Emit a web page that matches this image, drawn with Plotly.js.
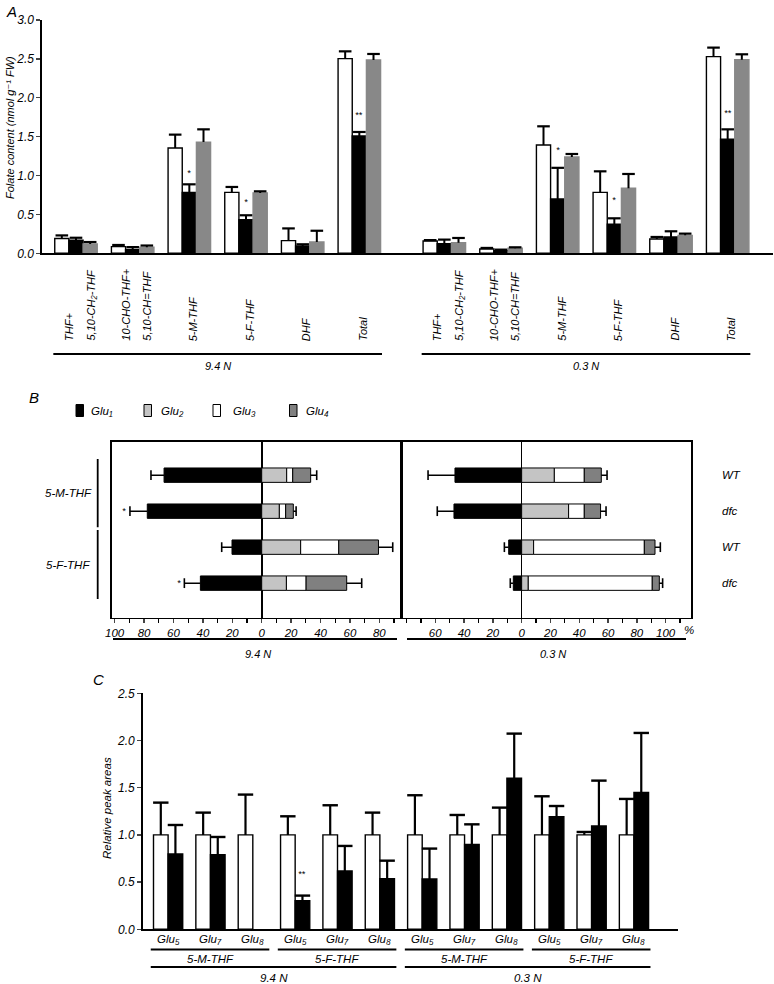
<!DOCTYPE html>
<html><head><meta charset="utf-8">
<script src="https://cdn.plot.ly/plotly-3.0.1.min.js"></script>
<style>html,body{margin:0;padding:0;background:#fff}</style>
</head><body><div id="chart" style="width:774px;height:984px"></div>
<script>
// ---------------- DATA ----------------
// Panel A: folate content (nmol g-1 FW)
const posA = [0, 1, 2, 3, 4, 5, 6.5, 7.5, 8.5, 9.5, 10.5, 11.5];
const labelsA = [["THF+", "5,10-CH\u2082-THF"], ["10-CHO-THF+", "5,10-CH=THF"], ["5-M-THF"], ["5-F-THF"], ["DHF"], ["Total"]];
const nLabels = ["9.4 N", "0.3 N"];
const whiteA    = [0.19, 0.086, 1.354, 0.784, 0.163, 2.503, 0.159, 0.056, 1.393, 0.784, 0.184, 2.529];
const whiteAerr = [0.04, 0.021, 0.172, 0.069, 0.157, 0.094, 0.011, 0.013, 0.240, 0.270, 0.026, 0.116];
const blackA    = [0.17, 0.050, 0.784, 0.433, 0.094, 1.509, 0.124, 0.034, 0.699, 0.373, 0.210, 1.466];
const blackAerr = [0.03, 0.030, 0.103, 0.056, 0.022, 0.051, 0.052, 0.013, 0.400, 0.077, 0.073, 0.128];
const grayA     = [0.12, 0.077, 1.430, 0.776, 0.146, 2.486, 0.137, 0.064, 1.239, 0.836, 0.231, 2.490];
const grayAerr  = [0.025, 0.023, 0.164, 0.021, 0.144, 0.077, 0.060, 0.013, 0.038, 0.184, 0.022, 0.069];
const starIdxA  = [2, 3, 5, 8, 9, 11];
const starYA    = [1.03, 0.66, 1.78, 1.33, 0.69, 1.80];
const starTextA = ["*", "*", "**", "*", "*", "**"];

// Panel B: polyglutamate distribution (%)
const rowsB = [0, 1, 2, 3];
const folateB = ["5-M-THF", "5-F-THF"];
const genotypeB = ["WT", "dfc", "WT", "dfc"];
const gluNames = ["Glu\u2081", "Glu\u2082", "Glu\u2083", "Glu\u2084"];
// 9.4 N
const glu1_94 = [66.4, 77.8, 20.2, 41.7];
const glu1_94sd = [8.9, 11.8, 7.0, 10.9];
const glu2_94 = [17.0, 12.0, 26.5, 16.8];
const glu3_94 = [4.1, 4.3, 25.9, 13.4];
const glu4_94 = [12.2, 5.2, 27.0, 27.6];
const polySd_94 = [4.1, 1.9, 9.7, 10.2];
// 0.3 N
const glu1_03 = [46.3, 47.0, 9.0, 5.8];
const glu1_03sd = [18.7, 11.6, 3.0, 2.1];
const glu2_03 = [22.7, 32.6, 8.3, 4.6];
const glu3_03 = [20.8, 10.9, 76.9, 86.1];
const glu4_03 = [11.8, 11.3, 7.4, 4.9];
const polySd_03 = [4.0, 3.8, 3.7, 2.3];
const starRowB = [1, 3];
const starXB = [-93.5, -56];
const ticksLeftB = [-100, -80, -60, -40, -20, 0, 20, 40, 60, 80];
const ticksRightB = [-60, -40, -20, 0, 20, 40, 60, 80, 100];

// Panel C: relative peak areas
const posC = [0, 1, 2, 3, 4, 5, 6, 7, 8, 9, 10, 11];
const gluC = ["Glu\u2085", "Glu\u2087", "Glu\u2088", "Glu\u2085", "Glu\u2087", "Glu\u2088",
              "Glu\u2085", "Glu\u2087", "Glu\u2088", "Glu\u2085", "Glu\u2087", "Glu\u2088"];
const folateC = ["5-M-THF", "5-F-THF", "5-M-THF", "5-F-THF"];
const whiteC    = [1, 1, 1, 1, 1, 1, 1, 1, 1, 1, 1, 1];
const whiteCerr = [0.342, 0.236, 0.427, 0.197, 0.314, 0.236, 0.420, 0.211, 0.289, 0.409, 0.031, 0.381];
const blackC    = [0.798, 0.790, null, 0.304, 0.618, 0.537, 0.533, 0.900, 1.600, 1.193, 1.095, 1.451];
const blackCerr = [0.307, 0.188, null, 0.053, 0.265, 0.190, 0.322, 0.212, 0.473, 0.113, 0.480, 0.629];
const starIdxC = [3];
const starYC = [0.59];
const starTextC = ["**"];

// ---------------- HELPERS ----------------
const W = 774, H = 984;
const px = x => x / W, py = y => 1 - y / H;
const fam = 'Liberation Sans, Arial, Helvetica, DejaVu Sans, sans-serif';
const it = (size) => ({family: fam, size: size, color: '#000', style: 'italic'});
const zeros = n => new Array(n).fill(0);

const traces = [];
const annotations = [];
const shapes = [];
const line = (x0, y0, x1, y1, w, xref, yref) => shapes.push({type: 'line', xref: xref || 'paper', yref: yref || 'paper', x0, y0, x1, y1, line: {color: '#000', width: w || 1.8}});
const txt = (text, x, y, size, extra) => annotations.push(Object.assign({text, x, y, xref: 'paper', yref: 'paper', showarrow: false, font: it(size), xanchor: 'center', yanchor: 'middle'}, extra || {}));

// ---------------- PANEL A ----------------
const wA = 0.25;
const seriesA = [
  {y: whiteA, e: whiteAerr, fill: '#ffffff', edge: '#000000', off: -0.375},
  {y: blackA, e: blackAerr, fill: '#000000', edge: '#000000', off: -0.125},
  {y: grayA,  e: grayAerr,  fill: '#888888', edge: '#888888', off: 0.125}
];
seriesA.forEach(s => {
  traces.push({type: 'bar', x: posA, y: s.y, width: wA, offset: s.off, xaxis: 'x', yaxis: 'y',
    marker: {color: s.fill, line: {color: s.edge, width: 1.4}}, showlegend: false, hoverinfo: 'skip'});
});
seriesA.forEach(s => {
  traces.push({type: 'scatter', mode: 'markers', xaxis: 'x', yaxis: 'y', cliponaxis: false,
    x: posA.map(p => p + s.off + wA / 2), y: s.y.map((v, i) => v + s.e[i]),
    marker: {symbol: 'line-ew', size: 9, color: '#000', line: {width: 2.2, color: '#000'}},
    error_y: {type: 'data', symmetric: false, array: zeros(s.y.length), arrayminus: s.e, width: 0, thickness: 2, color: '#000'},
    showlegend: false, hoverinfo: 'skip'});
});
starIdxA.forEach((k, i) => annotations.push({text: starTextA[i], x: posA[k], y: starYA[i], xref: 'x', yref: 'y',
  showarrow: false, font: it(9), xanchor: 'center', yanchor: 'middle'}));
posA.forEach((p, k) => {
  const lines = labelsA[k % 6];
  const shifts = lines.length === 2 ? [-7, 14] : [3.5];
  lines.forEach((t, j) => annotations.push({text: t, x: p, xshift: shifts[j], y: py(343), xref: 'x', yref: 'paper',
    textangle: -90, showarrow: false, font: it(11), xanchor: 'center', yanchor: 'bottom'}));
});
line(-0.4, py(354), 5.4, py(354), 1.8, 'x', 'paper');
line(6.1, py(354), 11.9, py(354), 1.8, 'x', 'paper');
annotations.push({text: nLabels[0], x: 2.5, y: py(366), xref: 'x', yref: 'paper', showarrow: false, font: it(11), xanchor: 'center', yanchor: 'middle'});
annotations.push({text: nLabels[1], x: 9.0, y: py(366), xref: 'x', yref: 'paper', showarrow: false, font: it(11), xanchor: 'center', yanchor: 'middle'});
txt('Folate content (nmol g\u207B\u00B9 FW)', px(10), py(128), 11, {textangle: -90});
txt('A', px(4), py(11), 15, {xanchor: 'left'});

// ---------------- PANEL B ----------------
const gluStyle = [
  {fill: '#000000'}, {fill: '#c4c4c4'}, {fill: '#ffffff'}, {fill: '#808080'}
];
function panelB(g1, g1sd, g2, g3, g4, sd4, xa, ya) {
  const b3 = g2.map(v => v);
  const b4 = g2.map((v, i) => v + g3[i]);
  const tot = b4.map((v, i) => v + g4[i]);
  const sets = [
    {x: g1.map(v => -v), base: zeros(4), st: gluStyle[0]},
    {x: g2, base: zeros(4), st: gluStyle[1]},
    {x: g3, base: b3, st: gluStyle[2]},
    {x: g4, base: b4, st: gluStyle[3]}
  ];
  sets.forEach(s => traces.push({type: 'bar', orientation: 'h', x: s.x, y: rowsB, base: s.base, width: 0.4,
    xaxis: xa, yaxis: ya, marker: {color: s.st.fill, line: {color: '#000', width: 1}}, showlegend: false, hoverinfo: 'skip'}));
  traces.push({type: 'scatter', mode: 'markers', xaxis: xa, yaxis: ya, cliponaxis: false,
    x: g1.map((v, i) => -(v + g1sd[i])), y: rowsB,
    marker: {symbol: 'line-ns', size: 7, color: '#000', line: {width: 1.6, color: '#000'}},
    error_x: {type: 'data', symmetric: false, array: g1sd, arrayminus: zeros(4), width: 0, thickness: 1.5, color: '#000'},
    showlegend: false, hoverinfo: 'skip'});
  traces.push({type: 'scatter', mode: 'markers', xaxis: xa, yaxis: ya, cliponaxis: false,
    x: tot.map((v, i) => v + sd4[i]), y: rowsB,
    marker: {symbol: 'line-ns', size: 7, color: '#000', line: {width: 1.6, color: '#000'}},
    error_x: {type: 'data', symmetric: false, array: zeros(4), arrayminus: sd4, width: 0, thickness: 1.5, color: '#000'},
    showlegend: false, hoverinfo: 'skip'});
}
panelB(glu1_94, glu1_94sd, glu2_94, glu3_94, glu4_94, polySd_94, 'x2', 'y2');
panelB(glu1_03, glu1_03sd, glu2_03, glu3_03, glu4_03, polySd_03, 'x3', 'y3');
starRowB.forEach((r, i) => annotations.push({text: '*', x: starXB[i], y: r, xref: 'x2', yref: 'y2', showarrow: false, font: it(9), xanchor: 'center', yanchor: 'middle'}));
// legend
const legSw = [76, 144, 213, 289.5];
const legTx = [89, 159, 231, 304];
gluNames.forEach((g, i) => {
  shapes.push({type: 'rect', xref: 'paper', yref: 'paper', x0: px(legSw[i]), x1: px(legSw[i] + 7.5), y0: py(416.5), y1: py(404.5),
    fillcolor: gluStyle[i].fill, line: {color: '#000', width: 1}});
  txt(g, px(legTx[i]), py(411), 11.5, {xanchor: 'left'});
});
txt('B', px(27), py(397), 15, {xanchor: 'left'});
// row labels
folateB.forEach((f, i) => annotations.push({text: f, x: px(68), y: 0.5 + 2 * i, xref: 'paper', yref: 'y2', showarrow: false, font: it(11.5), xanchor: 'center', yanchor: 'middle'}));
line(px(97.7), -0.45, px(97.7), 1.45, 1.8, 'paper', 'y2');
line(px(97.7), 1.52, px(97.7), 3.44, 1.8, 'paper', 'y2');
genotypeB.forEach((g, i) => annotations.push({text: g, x: px(720), y: rowsB[i], xref: 'paper', yref: 'y3', showarrow: false, font: it(11.5), xanchor: 'left', yanchor: 'middle'}));
annotations.push({text: '%', x: 116.5, y: py(629.5), xref: 'x3', yref: 'paper', showarrow: false, font: it(11.5), xanchor: 'center', yanchor: 'middle'});
line(px(113), py(639), px(397), py(639), 1.8);
line(px(407), py(639), px(686), py(639), 1.8);
txt(nLabels[0], px(258), py(654), 11);
txt(nLabels[1], px(553), py(654), 11);

// ---------------- PANEL C ----------------
const wC = 0.345;
const seriesC = [
  {y: whiteC, e: whiteCerr, fill: '#ffffff', off: -wC},
  {y: blackC, e: blackCerr, fill: '#000000', off: 0}
];
seriesC.forEach(s => traces.push({type: 'bar', x: posC, y: s.y, width: wC, offset: s.off, xaxis: 'x4', yaxis: 'y4',
  marker: {color: s.fill, line: {color: '#000', width: 1.4}}, showlegend: false, hoverinfo: 'skip'}));
seriesC.forEach(s => traces.push({type: 'scatter', mode: 'markers', xaxis: 'x4', yaxis: 'y4', cliponaxis: false,
  x: posC.map(p => p + s.off + wC / 2), y: s.y.map((v, i) => v === null ? null : v + s.e[i]),
  marker: {symbol: 'line-ew', size: 11, color: '#000', line: {width: 2.4, color: '#000'}},
  error_y: {type: 'data', symmetric: false, array: zeros(s.y.length), arrayminus: s.e, width: 0, thickness: 2.2, color: '#000'},
  showlegend: false, hoverinfo: 'skip'}));
starIdxC.forEach((k, i) => annotations.push({text: starTextC[i], x: posC[k] + wC / 2, y: starYC[i], xref: 'x4', yref: 'y4',
  showarrow: false, font: it(9), xanchor: 'center', yanchor: 'middle'}));
posC.forEach((p, k) => annotations.push({text: gluC[k], x: p, y: py(939), xref: 'x4', yref: 'paper', showarrow: false, font: it(11.5), xanchor: 'center', yanchor: 'middle'}));
folateC.forEach((f, g) => {
  line(3 * g - 0.41, py(949.5), 3 * g + 2.39, py(949.5), 1.8, 'x4', 'paper');
  annotations.push({text: f, x: 3 * g + 0.99, y: py(958.5), xref: 'x4', yref: 'paper', showarrow: false, font: it(11.5), xanchor: 'center', yanchor: 'middle'});
});
nLabels.forEach((n, k) => {
  line(6 * k - 0.41, py(967), 6 * k + 5.39, py(967), 1.8, 'x4', 'paper');
  annotations.push({text: n, x: 6 * k + 2.49, y: py(977.5), xref: 'x4', yref: 'paper', showarrow: false, font: it(11.5), xanchor: 'center', yanchor: 'middle'});
});
txt('Relative peak areas', px(107), py(808), 11.5, {textangle: -90});
txt('C', px(91), py(679), 15, {xanchor: 'left'});

// ---------------- LAYOUT ----------------
const ax = {showgrid: false, zeroline: false, showline: true, linecolor: '#000', linewidth: 1.6, tickfont: it(12), fixedrange: true};
const absText = vals => vals.map(v => String(Math.abs(v)));
const minorB = {dtick: 10, tick0: 0, ticks: 'outside', ticklen: 4, tickwidth: 1.3, tickcolor: '#000', showgrid: false};
const layout = {
  width: W, height: H, margin: {l: 0, r: 0, t: 0, b: 0}, paper_bgcolor: '#fff', plot_bgcolor: 'rgba(0,0,0,0)',
  barmode: 'overlay', showlegend: false, font: {family: fam, style: 'italic', color: '#000'},
  xaxis: Object.assign({}, ax, {domain: [px(42), px(773)], range: [-0.6, 12.3], anchor: 'y', ticks: '', showticklabels: false}),
  yaxis: Object.assign({}, ax, {domain: [py(253.3), py(20)], range: [0, 3], anchor: 'x', dtick: 0.5, tickformat: '.1f', ticks: 'outside', ticklen: 4, tickwidth: 1.4}),
  xaxis2: Object.assign({}, ax, {domain: [px(112), px(401.7)], range: [-101.8, 95.2], anchor: 'y2', mirror: true, tickmode: 'array',
    tickvals: ticksLeftB, ticktext: absText(ticksLeftB), ticks: 'outside', ticklen: 4, tickwidth: 1.3, tickfont: it(11.5), minor: minorB,
    zeroline: true, zerolinecolor: '#000', zerolinewidth: 1.6}),
  yaxis2: Object.assign({}, ax, {domain: [py(617.7), py(441.7)], range: [3.96, -0.93], anchor: 'x2', mirror: true, ticks: '', showticklabels: false}),
  xaxis3: Object.assign({}, ax, {domain: [px(401.7), px(691)], range: [-83.3, 117.6], anchor: 'y3', mirror: true, tickmode: 'array',
    tickvals: ticksRightB, ticktext: absText(ticksRightB), ticks: 'outside', ticklen: 4, tickwidth: 1.3, tickfont: it(11.5), minor: minorB,
    zeroline: true, zerolinecolor: '#000', zerolinewidth: 1.6}),
  yaxis3: Object.assign({}, ax, {domain: [py(617.7), py(441.7)], range: [3.96, -0.93], anchor: 'x3', mirror: true, ticks: '', showticklabels: false}),
  xaxis4: Object.assign({}, ax, {domain: [px(142.7), px(678)], range: [-0.6, 12.04], anchor: 'y4', ticks: '', showticklabels: false}),
  yaxis4: Object.assign({}, ax, {domain: [py(929.3), py(693.3)], range: [0, 2.5], anchor: 'x4', dtick: 0.5, tickformat: '.1f', ticks: 'outside', ticklen: 4, tickwidth: 1.4}),
  annotations: annotations, shapes: shapes
};
Plotly.newPlot('chart', traces, layout, {staticPlot: true, displayModeBar: false});
</script></body></html>
